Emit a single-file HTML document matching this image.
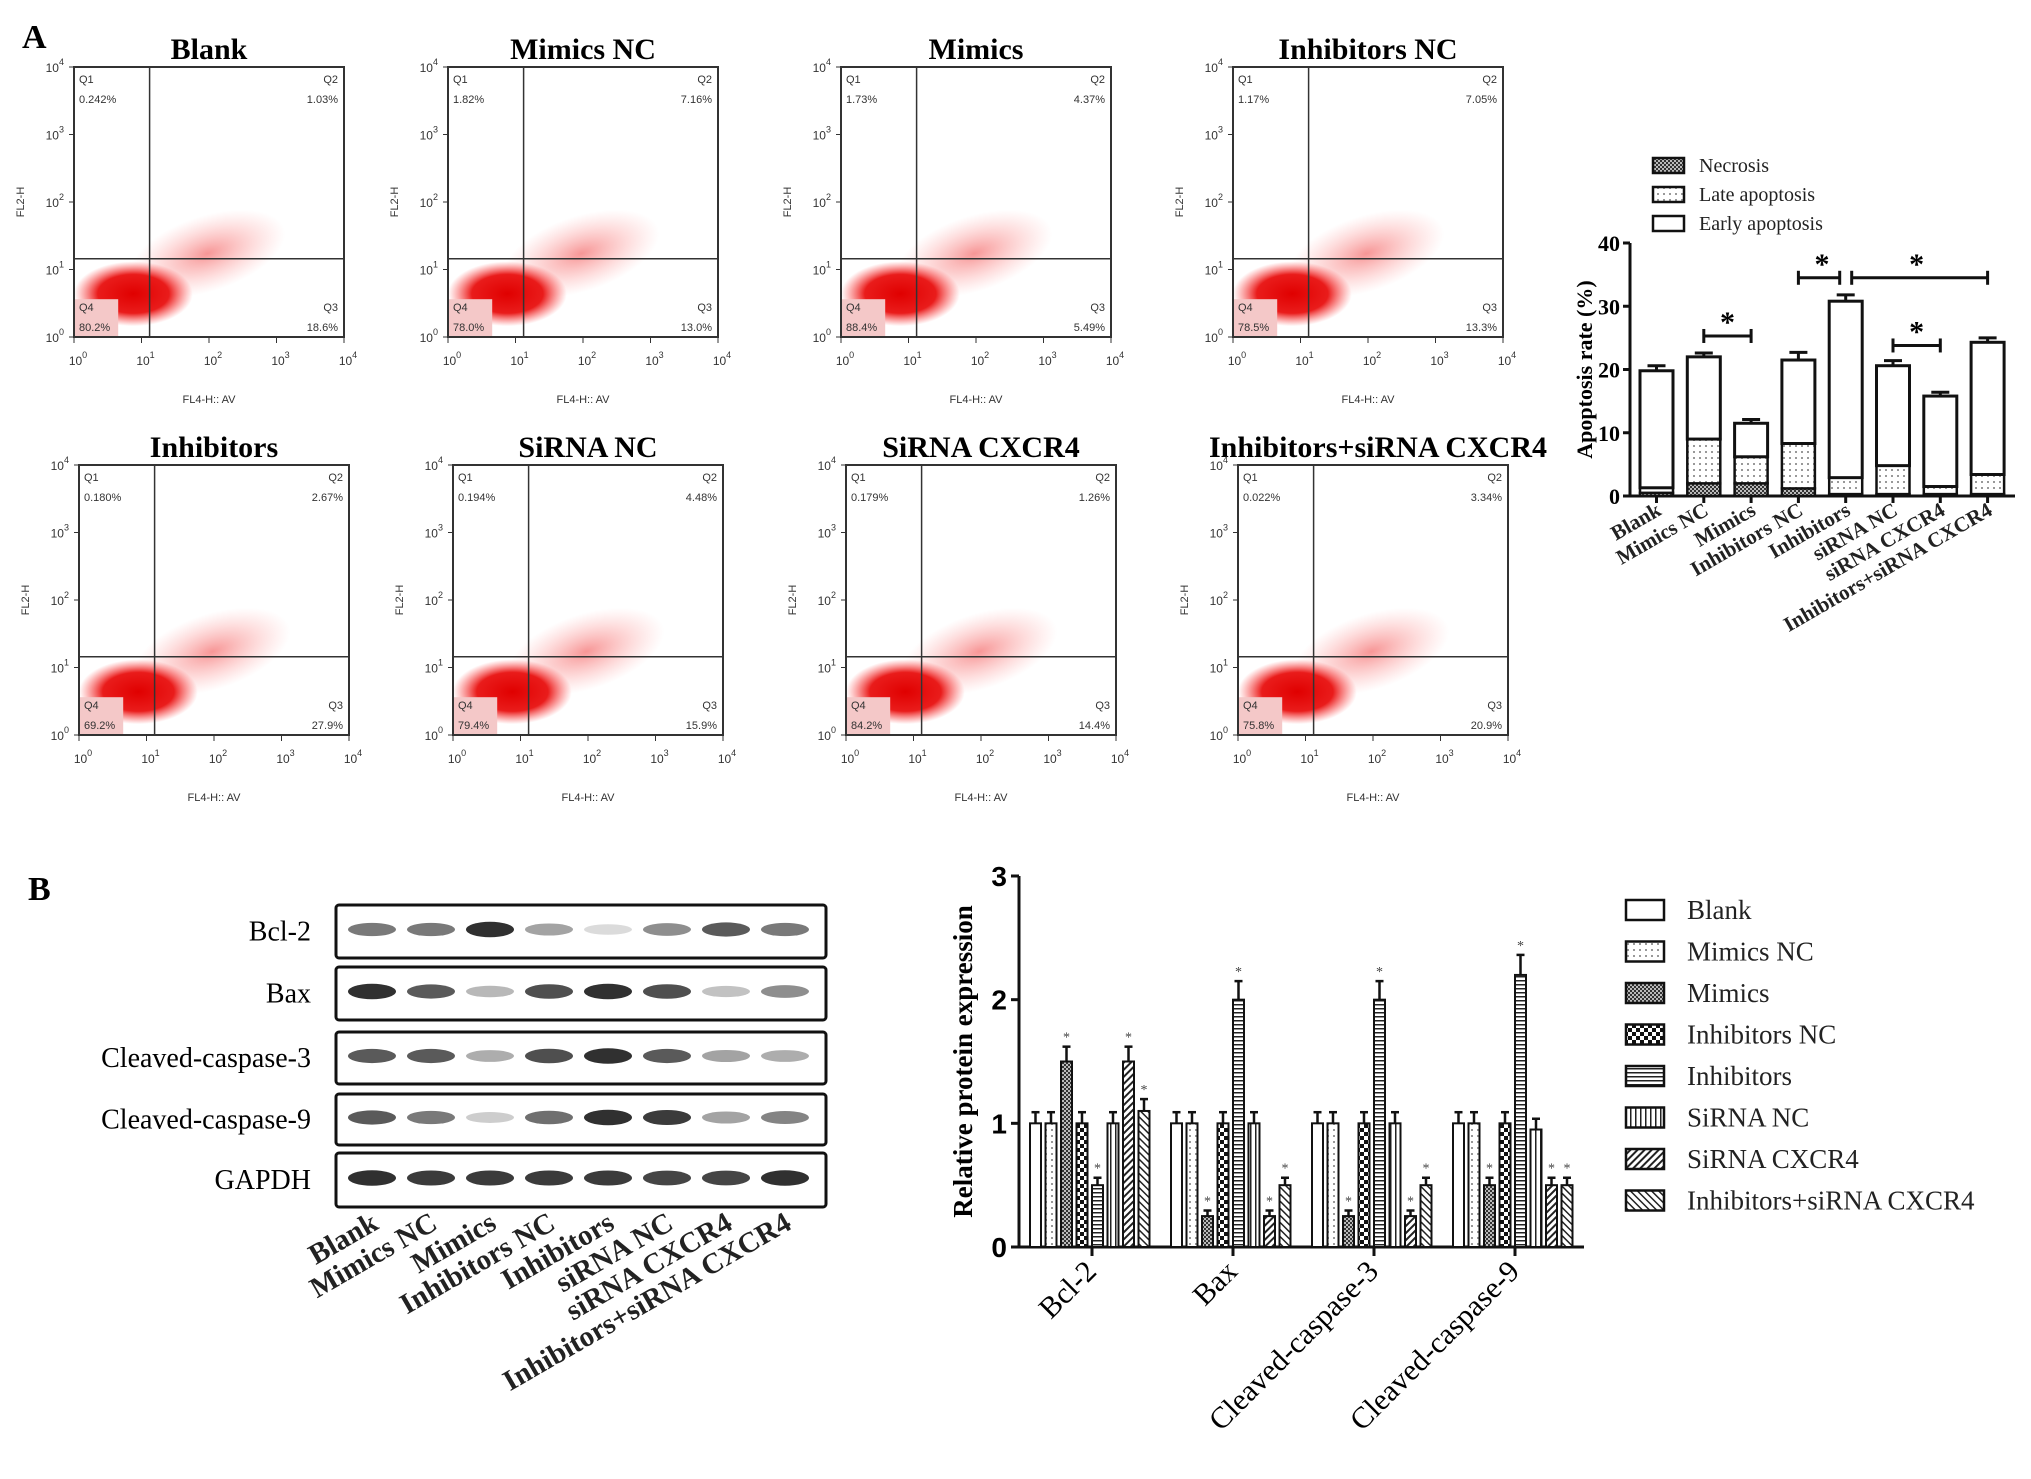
<!DOCTYPE html>
<html><head><meta charset="utf-8">
<style>
html,body{margin:0;padding:0;background:#fff;}
svg{display:block;font-family:"Liberation Serif",serif;}
.sans{font-family:"Liberation Sans",sans-serif;}
</style></head>
<body>
<svg id="fig" width="2031" height="1479" viewBox="0 0 2031 1479" xmlns="http://www.w3.org/2000/svg">
<defs>
<pattern id="pDots" width="6" height="6" patternUnits="userSpaceOnUse"><rect width="6" height="6" fill="#fff"/><rect x="1" y="1" width="2" height="2" fill="#999"/></pattern>
<pattern id="pCross" width="4" height="4" patternUnits="userSpaceOnUse"><rect width="4" height="4" fill="#bbb"/><rect width="2" height="2" fill="#333"/><rect x="2" y="2" width="2" height="2" fill="#333"/></pattern>
<pattern id="pChecker" width="8" height="8" patternUnits="userSpaceOnUse"><rect width="8" height="8" fill="#fff"/><rect width="4" height="4" fill="#111"/><rect x="4" y="4" width="4" height="4" fill="#111"/></pattern>
<pattern id="pHoriz" width="4" height="4" patternUnits="userSpaceOnUse"><rect width="4" height="4" fill="#fff"/><rect width="4" height="1.5" fill="#222"/></pattern>
<pattern id="pVert" width="5" height="5" patternUnits="userSpaceOnUse"><rect width="5" height="5" fill="#fff"/><rect width="1.5" height="5" fill="#222"/></pattern>
<pattern id="pDiag1" width="5" height="5" patternUnits="userSpaceOnUse" patternTransform="rotate(45)"><rect width="5" height="5" fill="#fff"/><rect width="2" height="5" fill="#222"/></pattern>
<pattern id="pDiag2" width="5" height="5" patternUnits="userSpaceOnUse" patternTransform="rotate(-45)"><rect width="5" height="5" fill="#fff"/><rect width="1.5" height="5" fill="#222"/></pattern>
<radialGradient id="gCore"><stop offset="0" stop-color="#e00000" stop-opacity="1"/><stop offset="0.6" stop-color="#e8100f" stop-opacity="0.95"/><stop offset="1" stop-color="#ff4040" stop-opacity="0"/></radialGradient>
<radialGradient id="gTail"><stop offset="0" stop-color="#f04040" stop-opacity="0.55"/><stop offset="1" stop-color="#ff8080" stop-opacity="0"/></radialGradient>
</defs>
<text x="22" y="48" font-size="34" font-weight="bold">A</text>
<text x="28" y="900" font-size="34" font-weight="bold">B</text>
<g id="flow"></g>
<g id="apop"></g>
<g id="blot"></g>
<g id="prot"></g>
</svg>
<script>
const NS="http://www.w3.org/2000/svg";
function mk(tag,attrs,parent,txt){const e=document.createElementNS(NS,tag);for(const k in attrs)e.setAttribute(k,attrs[k]);if(txt!==undefined)e.textContent=txt;parent.appendChild(e);return e;}

/* ---------- Flow cytometry panels ---------- */
const flowTitles=["Blank","Mimics NC","Mimics","Inhibitors NC","Inhibitors","SiRNA NC","SiRNA CXCR4","Inhibitors+siRNA CXCR4"];
const flowQ1=["0.242%","1.82%","1.73%","1.17%","0.180%","0.194%","0.179%","0.022%"];
const flowQ2=["1.03%","7.16%","4.37%","7.05%","2.67%","4.48%","1.26%","3.34%"];
const flowQ3=["18.6%","13.0%","5.49%","13.3%","27.9%","15.9%","14.4%","20.9%"];
const flowQ4=["80.2%","78.0%","88.4%","78.5%","69.2%","79.4%","84.2%","75.8%"];
const flowG=document.getElementById('flow');
const fl=[74,448,841,1233], ft=[67,465], FS=270;
for(let i=0;i<8;i++){
  const x0=fl[i%4]+(i>=4?5:0), y0=ft[Math.floor(i/4)];
  const g=mk('g',{},flowG);
  
  
  const t=mk('text',{x:x0+FS/2+(i==7?5:0),y:y0-8,'font-size':30,'font-weight':'bold','text-anchor':'middle'},g,flowTitles[i]);
  
  
  const vx=x0+FS*0.28, hy=y0+FS*0.71;
  const tail=mk('ellipse',{cx:vx+FS*0.22,cy:hy-FS*0.02,rx:FS*0.3,ry:FS*0.14,fill:'url(#gTail)',transform:`rotate(-18 ${vx+FS*0.22} ${hy})`},g);
  
  
  const core=mk('ellipse',{cx:vx-FS*0.06,cy:hy+FS*0.13,rx:FS*0.22,ry:FS*0.12,fill:'url(#gCore)'},g);
  
  
  mk('rect',{x:x0+1,y:y0+FS*0.86,width:FS*0.16,height:FS*0.14-1,fill:'#f4c8c8'},g);
  const box=mk('rect',{x:x0,y:y0,width:FS,height:FS,fill:'none',stroke:'#333','stroke-width':2},g);
  
  
  mk('line',{x1:vx,y1:y0,x2:vx,y2:y0+FS,stroke:'#333','stroke-width':1.5},g);
  mk('line',{x1:x0,y1:hy,x2:x0+FS,y2:hy,stroke:'#333','stroke-width':1.5},g);
  const qs=[[x0+5,y0+16,'start','Q1',flowQ1[i]],[x0+FS-6,y0+16,'end','Q2',flowQ2[i]],[x0+FS-6,y0+FS-26,'end','Q3',flowQ3[i]],[x0+5,y0+FS-26,'start','Q4',flowQ4[i]]];
  qs.forEach(q=>{
    const a=mk('text',{x:q[0],y:q[1],'font-size':11,'text-anchor':q[2],class:'sans',fill:'#333'},g,q[3]);
    
    
    const b=mk('text',{x:q[0],y:q[1]+20,'font-size':11,'text-anchor':q[2],class:'sans',fill:'#333'},g,q[4]);
    
    
  });
  for(let k=0;k<=4;k++){
    const yy=y0+FS-k*FS/4, xx=x0+k*FS/4;
    mk('line',{x1:x0-5,y1:yy,x2:x0,y2:yy,stroke:'#333'},g);
    mk('line',{x1:xx,y1:y0+FS,x2:xx,y2:y0+FS+6,stroke:'#333'},g);
    const ty=mk('text',{x:x0-10,y:yy+5,'font-size':12,'text-anchor':'end',class:'sans',fill:'#333'},g);
    ty.innerHTML='10<tspan dy="-7" font-size="9">'+k+'</tspan>';
    
    
    const tx=mk('text',{x:xx+4,y:y0+FS+28,'font-size':12,'text-anchor':'middle',class:'sans',fill:'#333'},g);
    tx.innerHTML='10<tspan dy="-7" font-size="9">'+k+'</tspan>';
    
    
  }
  const ya=mk('text',{x:0,y:0,'font-size':11,'text-anchor':'middle',class:'sans',fill:'#333',transform:`translate(${x0-50},${y0+FS/2}) rotate(-90)`},g,'FL2-H');
  
  
  const xa=mk('text',{x:x0+FS/2,y:y0+FS+66,'font-size':11,'text-anchor':'middle',class:'sans',fill:'#333'},g,'FL4-H:: AV');
  
  
}

/* ---------- Apoptosis stacked bar chart ---------- */
const apGroups=["Blank","Mimics NC","Mimics","Inhibitors NC","Inhibitors","siRNA NC","siRNA CXCR4","Inhibitors+siRNA CXCR4"];
const apNecrosis=[0.5,2.0,2.0,1.2,0.3,0.3,0.3,0.3];
const apLate=[0.8,7.0,4.2,7.1,2.6,4.5,1.2,3.1];
const apEarly=[18.5,13.0,5.3,13.2,27.9,15.8,14.3,20.9];
const apErr=[0.8,0.6,0.6,1.2,1.0,0.8,0.6,0.7];
const apTicks=[0,10,20,30,40];
const apSig=[[1,2,25.3],[3,4,34.5],[4,7,34.5],[5,6,23.8]];
const apG=document.getElementById('apop');
const AX=1630, AY0=496, AY40=243;
const ay=v=>AY0-(v/40)*(AY0-AY40);
const ax=i=>1640+i*47.3;
const BW=33;
mk('line',{x1:AX,y1:AY40,x2:AX,y2:AY0,stroke:'#111','stroke-width':3},apG);
mk('line',{x1:AX,y1:AY0,x2:2015,y2:AY0,stroke:'#111','stroke-width':3},apG);
apTicks.forEach(v=>{
  mk('line',{x1:AX-7,y1:ay(v),x2:AX,y2:ay(v),stroke:'#111','stroke-width':3},apG);
  const t=mk('text',{x:AX-10,y:ay(v)+8,'font-size':22,'font-weight':'bold','text-anchor':'end'},apG,v);
  
  
});
const apt=mk('text',{x:0,y:0,'font-size':22,'font-weight':'bold','text-anchor':'middle',transform:`translate(1592,${(AY0+AY40)/2}) rotate(-90)`},apG,'Apoptosis rate (%)');


apGroups.forEach((name,i)=>{
  const x=ax(i), n=apNecrosis[i], l=apLate[i], e=apEarly[i], tot=n+l+e;
  const er=mk('line',{x1:x+BW/2,y1:ay(tot),x2:x+BW/2,y2:ay(tot+apErr[i]),stroke:'#111','stroke-width':3},apG);
  
  
  mk('line',{x1:x+BW/2-9,y1:ay(tot+apErr[i]),x2:x+BW/2+9,y2:ay(tot+apErr[i]),stroke:'#111','stroke-width':3},apG);
  const r1=mk('rect',{x:x,y:ay(n),width:BW,height:ay(0)-ay(n),fill:'url(#pCross)',stroke:'#111','stroke-width':2.5},apG);
  
  
  const r2=mk('rect',{x:x,y:ay(n+l),width:BW,height:ay(n)-ay(n+l),fill:'url(#pDots)',stroke:'#111','stroke-width':2.5},apG);
  
  
  const r3=mk('rect',{x:x,y:ay(tot),width:BW,height:ay(n+l)-ay(tot),fill:'#fff',stroke:'#111','stroke-width':3},apG);
  
  
  mk('line',{x1:x+BW/2,y1:AY0,x2:x+BW/2,y2:AY0+7,stroke:'#111','stroke-width':3},apG);
  const lb=mk('text',{x:0,y:0,'font-size':21,'font-weight':'bold','text-anchor':'end',fill:'#222',transform:`translate(${x+BW/2+6},${AY0+18}) rotate(-30)`},apG,name);
  
  
});
apSig.forEach(s=>{
  const xa=ax(s[0])+BW/2, xb=ax(s[1])+BW/2, y=ay(s[2]);
  const sl=mk('line',{x1:xa+(s[0]==4?6:0),y1:y,x2:xb-(s[1]==4?6:0),y2:y,stroke:'#111','stroke-width':3},apG);
  
  
  [xa+(s[0]==4?6:0),xb-(s[1]==4?6:0)].forEach(xx=>mk('line',{x1:xx,y1:y-7,x2:xx,y2:y+7,stroke:'#111','stroke-width':3},apG));
  const st=mk('text',{x:(xa+xb)/2,y:y-4,'font-size':30,'font-weight':'bold','text-anchor':'middle'},apG,'*');
  
  
});
const apLeg=[["Necrosis","url(#pCross)"],["Late apoptosis","url(#pDots)"],["Early apoptosis","#fff"]];
apLeg.forEach((L,i)=>{
  const y=158+i*29;
  const r=mk('rect',{x:1653,y:y,width:31,height:15,fill:L[1],stroke:'#111','stroke-width':2.5},apG);
  
  
  const t=mk('text',{x:1699,y:y+14,'font-size':20,fill:'#222'},apG,L[0]);
  
  
});

/* ---------- Western blot ---------- */
const blotRows=["Bcl-2","Bax","Cleaved-caspase-3","Cleaved-caspase-9","GAPDH"];
const blotBcl2=[0.55,0.55,0.9,0.35,0.08,0.45,0.7,0.55];
const blotBax=[0.9,0.7,0.25,0.75,0.9,0.75,0.2,0.45];
const blotCasp3=[0.7,0.7,0.3,0.75,0.9,0.7,0.35,0.3];
const blotCasp9=[0.7,0.55,0.15,0.6,0.9,0.85,0.35,0.5];
const blotGapdh=[0.9,0.85,0.85,0.85,0.85,0.8,0.8,0.9];
const blotVals=[blotBcl2,blotBax,blotCasp3,blotCasp9,blotGapdh];
const blotLanes=["Blank","Mimics NC","Mimics","Inhibitors NC","Inhibitors","siRNA NC","siRNA CXCR4","Inhibitors+siRNA CXCR4"];
const blG=document.getElementById('blot');
const rowTop=[905,967,1032,1094,1153], rowH=[53,53,52,51,54];
const bx0=336,bx1=826;
const laneX=i=>372+i*59;
blotRows.forEach((name,r)=>{
  const y=rowTop[r], h=rowH[r];
  const box=mk('rect',{x:bx0,y:y,width:bx1-bx0,height:h,rx:3,fill:'#fff',stroke:'#111','stroke-width':3},blG);
  
  
  blotVals[r].forEach((v,i)=>{
    const c=Math.round(235-v*220);
    const b=mk('ellipse',{cx:laneX(i),cy:y+h/2-2,rx:24,ry:5+v*3,fill:`rgb(${c},${c},${c})`,opacity:0.95},blG);
    
    
  });
  const t=mk('text',{x:311,y:y+h/2+9,'font-size':28,'text-anchor':'end'},blG,name);
  
  
});
blotLanes.forEach((name,i)=>{
  const t=mk('text',{x:0,y:0,'font-size':29,'font-weight':'bold','text-anchor':'end',fill:'#222',transform:`translate(${laneX(i)+8},${1228}) rotate(-30)`},blG,name);
  
  
});

/* ---------- Relative protein expression chart ---------- */
const protCats=["Bcl-2","Bax","Cleaved-caspase-3","Cleaved-caspase-9"];
const protSeries=["Blank","Mimics NC","Mimics","Inhibitors NC","Inhibitors","SiRNA NC","SiRNA CXCR4","Inhibitors+siRNA CXCR4"];
const protBlank=[1,1,1,1];
const protMimicsNC=[1,1,1,1];
const protMimics=[1.5,0.25,0.25,0.5];
const protInhNC=[1,1,1,1];
const protInh=[0.5,2.0,2.0,2.2];
const protSiNC=[1,1,1,0.95];
const protSiCX=[1.5,0.25,0.25,0.5];
const protInhSi=[1.1,0.5,0.5,0.5];
const protVals=[protBlank,protMimicsNC,protMimics,protInhNC,protInh,protSiNC,protSiCX,protInhSi];
const protSig=[[0,0,0,0],[0,0,0,0],[1,1,1,1],[0,0,0,0],[1,1,1,1],[0,0,0,0],[1,1,1,1],[1,1,1,1]];
const protTicks=[0,1,2,3];
const protFills=['#fff','url(#pDots)','url(#pCross)','url(#pChecker)','url(#pHoriz)','url(#pVert)','url(#pDiag1)','url(#pDiag2)'];
const pG=document.getElementById('prot');
const PX=1019, PY0=1247, PY3=876;
const py=v=>PY0-(v/3)*(PY0-PY3);
const gx=c=>1030+c*141;
const bxp=(c,s)=>gx(c)+s*15.5;
const PBW=11;
mk('line',{x1:PX,y1:PY3,x2:PX,y2:PY0,stroke:'#111','stroke-width':3},pG);
mk('line',{x1:PX,y1:PY0,x2:1584,y2:PY0,stroke:'#111','stroke-width':3},pG);
protTicks.forEach(v=>{
  mk('line',{x1:PX-8,y1:py(v),x2:PX,y2:py(v),stroke:'#111','stroke-width':3},pG);
  const t=mk('text',{x:PX-12,y:py(v)+10,'font-size':28,'font-weight':'bold','text-anchor':'end',class:'sans'},pG,v);
  
  
});
const pyt=mk('text',{x:0,y:0,'font-size':27,'font-weight':'bold','text-anchor':'middle',transform:`translate(972,${(PY0+PY3)/2}) rotate(-90)`},pG,'Relative protein expression');


protCats.forEach((cat,c)=>{
  protSeries.forEach((s,k)=>{
    const v=protVals[k][c], x=bxp(c,k);
    const e=v*0.06+0.03;
    mk('line',{x1:x+PBW/2,y1:py(v),x2:x+PBW/2,y2:py(v+e),stroke:'#111','stroke-width':2.5},pG);
    mk('line',{x1:x+PBW/2-4,y1:py(v+e),x2:x+PBW/2+4,y2:py(v+e),stroke:'#111','stroke-width':2.5},pG);
    const r=mk('rect',{x:x,y:py(v),width:PBW,height:PY0-py(v),fill:protFills[k],stroke:'#111','stroke-width':2},pG);
    
    
    if(protSig[k][c]){
      const st=mk('text',{x:x+PBW/2,y:py(v+e)-5,'font-size':14,'text-anchor':'middle',fill:'#444'},pG,'*');
      
      
    }
  });
  const tx=gx(c)+62;
  mk('line',{x1:tx,y1:PY0,x2:tx,y2:PY0+9,stroke:'#111','stroke-width':3},pG);
  const lb=mk('text',{x:0,y:0,'font-size':30,'text-anchor':'end',transform:`translate(${tx+6},${PY0+26}) rotate(-45)`},pG,cat);
  
  
});
protSeries.forEach((s,k)=>{
  const y=900+k*41.5;
  const r=mk('rect',{x:1626,y:y,width:38,height:20,fill:protFills[k],stroke:'#111','stroke-width':2.5},pG);
  
  
  const t=mk('text',{x:1687,y:y+19,'font-size':27,fill:'#222'},pG,s);
  
  
});
</script>
</body></html>
